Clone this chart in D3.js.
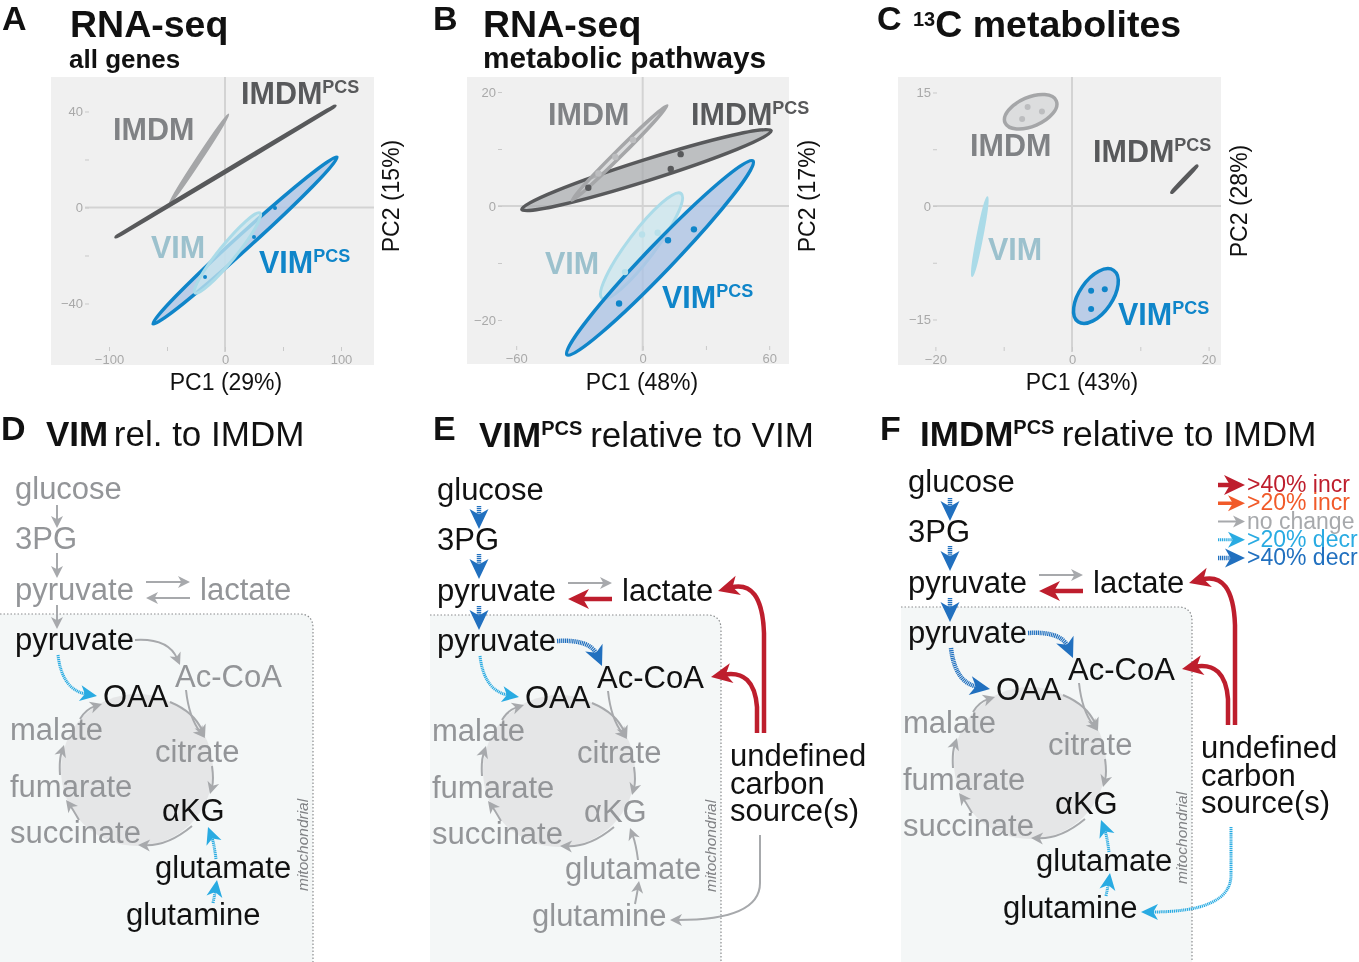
<!DOCTYPE html>
<html>
<head>
<meta charset="utf-8">
<script src="https://cdn.jsdelivr.net/npm/d3@7"></script>
<style>
    html, body { margin: 0; background: #fff; }
    svg { display: block; filter: blur(0.35px); }
    text { font-family: "Liberation Sans", Arial, sans-serif; }
</style>
</head>
<body>
<div id="figure"></div>
<script>
// ---- PCA data (ellipse = major axis ends + width/length ratio)
const groups = ["IMDM", "IMDMPCS", "VIM", "VIMPCS"];

const panelAEllipses = [
    ["IMDM", 2.6, 38.5, -47.4, 1.9, 0.025],
    ["IMDMPCS", 94.8, 42.3, -94, -12.3, 0.005],
    ["VIMPCS", 96.5, 21, -62, -48.5, 0.06],
    ["VIM", 30.2, -2.3, -25.9, -35.6, 0.16]
];
const panelAPoints = [
    ["VIMPCS", 43.1, -0.2], ["VIMPCS", 25, -12.3], ["VIMPCS", -17.2, -29]
];

const panelBEllipses = [
    ["IMDMPCS", 60.9, 13.2, -57.3, -0.6, 0.08],
    ["IMDM", 11.5, 17.6, -33.5, 1, 0.05],
    ["VIM", 18.2, 2.2, -19.3, -16.2, 0.21],
    ["VIMPCS", 52.3, 7.9, -35.9, -26.1, 0.1]
];
const panelBPoints = [
    ["IMDMPCS", 18, 9.1], ["IMDMPCS", 13.3, 6.5], ["IMDMPCS", -25.8, 3.2],
    ["IMDM", -21, 5.7], ["IMDM", -13, 8.6], ["IMDM", -4.6, 11.6],
    ["VIM", -0.3, -5], ["VIM", 7.1, -4.7], ["VIM", -8.4, -11.6],
    ["VIMPCS", 24.3, -4.1], ["VIMPCS", 12, -6], ["VIMPCS", -11.2, -17.1]
];

const panelCEllipses = [
    ["IMDM", -2.3, 13.9, -9.8, 11, 0.52],
    ["IMDMPCS", 18.3, 5.3, 14.6, 1.8, 0.03],
    ["VIM", -12.4, 1.1, -14.6, -9.2, 0.05],
    ["VIMPCS", 6.1, -8.5, 0.9, -15.3, 0.53]
];
const panelCPoints = [
    ["IMDM", -6.5, 13.1], ["IMDM", -4.4, 12.5], ["IMDM", -7.3, 11.5],
    ["VIMPCS", 2.8, -11.2], ["VIMPCS", 4.8, -11], ["VIMPCS", 2.8, -13.6]
];

const panelAXTicks = [-100, -50, 0, 50, 100];
const panelAYTicks = [-40, -20, 0, 20, 40];
const panelBXTicks = [-60, -30, 0, 30, 60];
const panelBYTicks = [-20, -10, 0, 10, 20];
const panelCXTicks = [-20, -10, 0, 10, 20];
const panelCYTicks = [-15, -7.5, 0, 7.5, 15];

// ---- pathway data: which arrow changed how, which metabolites are emphasised
const arrowKeys = [
    "glucose-3pg", "3pg-pyruvate", "pyruvate-mito", "pyruvate-lactate", "lactate-pyruvate",
    "pyruvate-accoa", "pyruvate-oaa", "accoa-citrate", "oaa-citrate", "citrate-akg",
    "akg-succinate", "succinate-fumarate", "fumarate-malate", "malate-oaa",
    "glutamate-akg", "glutamine-glutamate", "carbon-glutamine", "carbon-lactate", "carbon-accoa"
];
const panelDChanges = [
    "none", "none", "none", "none", "none",
    "none", "decr20", "none", "none", "none",
    "none", "none", "none", "none",
    "decr20", "decr20", null, null, null
];
const panelEChanges = [
    "decr40", "decr40", "decr40", "none", "incr40",
    "decr40", "decr20", "none", "none", "none",
    "none", "none", "none", "none",
    "none", "none", "none", "incr40", "incr40"
];
const panelFChanges = [
    "decr40", "decr40", "decr40", "none", "incr40",
    "decr40", "decr40", "none", "none", "none",
    "none", "none", "none", "none",
    "decr20", "decr20", "decr20", "incr40", "incr40"
];
const panelDDark = ["pyruvateM", "OAA", "aKG", "glutamate", "glutamine"];
const panelEDark = ["glucose", "3PG", "pyruvate", "lactate", "pyruvateM", "OAA", "AcCoA", "carbon"];
const panelFDark = ["glucose", "3PG", "pyruvate", "lactate", "pyruvateM", "OAA", "AcCoA", "aKG", "glutamate", "glutamine", "carbon"];

const legendKinds = ["incr40", "incr20", "none", "decr20", "decr40"];
const legendLabels = [">40% incr", ">20% incr", "no change", ">20% decr", ">40% decr"];

// ---- styles and layout
const groupStyle = {
    IMDM: { stroke: "#a5a6a8", fill: "#d3d4d5", opacity: 0.7, label: "#808285", width: 3.5, dot: "#bcbdbf" },
    IMDMPCS: { stroke: "#58595b", fill: "#a7a9ac", opacity: 0.7, label: "#58595b", width: 3.5, dot: "#58595b" },
    VIM: { stroke: "#abdbe8", fill: "#c9e5ee", opacity: 0.75, label: "#9cc1cd", width: 3, dot: "#b9e0ea" },
    VIMPCS: { stroke: "#0f85c9", fill: "#a9c2e4", opacity: 0.75, label: "#0f85c9", width: 3.5, dot: "#0f85c9" }
};
const changeStyle = {
    none: { color: "#a7a9ac", width: 2, dash: null, head: 12, spread: 12 },
    decr20: { color: "#29abe2", width: 3, dash: "1.2,0.7", head: 17, spread: 16 },
    decr40: { color: "#2170bf", width: 4.5, dash: "1.2,0.7", head: 20, spread: 19 },
    incr20: { color: "#f15a29", width: 3.5, dash: null, head: 17, spread: 16 },
    incr40: { color: "#be1e2d", width: 4.5, dash: null, head: 21, spread: 20 }
};

const width = 1359;
const height = 962;

const pcaPanels = [
    {
        rect: [51, 77, 374, 365], xRange: [109, 341], yRange: [303.5, 111.5],
        xDomain: [-100, 100], yDomain: [-40, 40], xTicks: panelAXTicks, yTicks: panelAYTicks,
        xLabelled: [-100, 0, 100], yLabelled: [-40, 0, 40], axisX: 89,
        ellipses: panelAEllipses, points: panelAPoints, dot: 2,
        xTitle: "PC1 (29%)", xTitleAt: [226, 390], yTitle: "PC2 (15%)", yTitleAt: [399, 196],
        labels: { IMDM: [113, 140], IMDMPCS: [241, 104], VIM: [151, 258], VIMPCS: [259, 273] }
    },
    {
        rect: [467, 77, 789, 364], xRange: [516.2, 769.2], yRange: [320, 92],
        xDomain: [-60, 60], yDomain: [-20, 20], xTicks: panelBXTicks, yTicks: panelBYTicks,
        xLabelled: [-60, 0, 60], yLabelled: [-20, 0, 20], axisX: 502,
        ellipses: panelBEllipses, points: panelBPoints, dot: 3.2,
        xTitle: "PC1 (48%)", xTitleAt: [642, 390], yTitle: "PC2 (17%)", yTitleAt: [815, 196],
        labels: { IMDM: [548, 125], IMDMPCS: [691, 125], VIM: [545, 274], VIMPCS: [662, 308] }
    },
    {
        rect: [898, 77, 1221, 365], xRange: [935.4, 1208.6], yRange: [319.5, 92.5],
        xDomain: [-20, 20], yDomain: [-15, 15], xTicks: panelCXTicks, yTicks: panelCYTicks,
        xLabelled: [-20, 0, 20], yLabelled: [-15, 0, 15], axisX: 937,
        ellipses: panelCEllipses, points: panelCPoints, dot: 3,
        xTitle: "PC1 (43%)", xTitleAt: [1082, 390], yTitle: "PC2 (28%)", yTitleAt: [1247, 201],
        labels: { IMDM: [970, 156], IMDMPCS: [1093, 162], VIM: [988, 260], VIMPCS: [1118, 325] }
    }
];

// Metabolite positions in the D panel's frame: [left, baseline]
const nodeAt = {
    glucose: ["glucose", 15, 499], "3PG": ["3PG", 15, 549], pyruvate: ["pyruvate", 15, 600],
    lactate: ["lactate", 200, 600], pyruvateM: ["pyruvate", 15, 650], OAA: ["OAA", 103, 707],
    AcCoA: ["Ac-CoA", 175, 687], malate: ["malate", 10, 740], citrate: ["citrate", 155, 762],
    fumarate: ["fumarate", 10, 797], aKG: ["αKG", 162, 821], succinate: ["succinate", 10, 843],
    glutamate: ["glutamate", 143, 878], glutamine: ["glutamine", 110, 925]
};

// Arrow routes: 2 pts line, 3 pts quad, 4 pts line+quad
const routes = {
    "glucose-3pg": [[57, 505], [57, 528]],
    "3pg-pyruvate": [[57, 553], [57, 578]],
    "pyruvate-mito": [[57, 605], [57, 629]],
    "pyruvate-lactate": [[146, 582], [190, 582]],
    "lactate-pyruvate": [[190, 598], [146, 598]],
    "pyruvate-accoa": [[135, 640], [168, 638], [180, 665]],
    "pyruvate-oaa": [[58, 655], [62, 690], [97, 696]],
    "accoa-citrate": [[186, 690], [189, 718], [205, 738]],
    "oaa-citrate": [[170, 702], [194, 712], [205, 737]],
    "citrate-akg": [[212, 766], [214, 780], [210, 794]],
    "akg-succinate": [[192, 826], [168, 846], [138, 845]],
    "succinate-fumarate": [[79, 820], [72, 808], [66, 800]],
    "fumarate-malate": [[60, 775], [59, 760], [64, 745]],
    "malate-oaa": [[80, 719], [86, 709], [102, 704]],
    "glutamate-akg": [[216, 859], [214, 843], [208, 827]],
    "glutamine-glutamate": [[213, 903], [215, 893], [217, 880]],
    "carbon-glutamine": [[338, 834], [338, 882], [338, 919], [248, 919]],
    "carbon-lactate": [[342, 732], [342, 632], [340, 578], [296, 590]],
    "carbon-accoa": [[335, 732], [335, 706], [332, 668], [289, 676]]
};

const svg = d3.select("#figure").append("svg")
    .attr("width", width)
    .attr("height", height);

// Line of text built from runs, used for titles and labels with superscripts
function drawRuns(parent, x, y, runs, color) {
    const text = parent.append("text").attr("x", x).attr("y", y).attr("fill", color || "#111");
    let lift = 0;
    runs.forEach(run => {
        const raise = run.raise || 0;
        const tspan = text.append("tspan")
            .attr("font-size", run.size)
            .attr("font-weight", run.bold ? "bold" : "normal")
            .text(run.text);
        if (raise !== lift) tspan.attr("dy", lift - raise);
        lift = raise;
    });
    return text;
}

function drawPanelLetter(letter, x, y) {
    svg.append("text").attr("x", x).attr("y", y)
        .attr("font-size", 34).attr("font-weight", "bold").attr("fill", "#111").text(letter);
}

function drawPca(panel) {
    const g = svg.append("g");
    const [left, top, right, bottom] = panel.rect;
    const x = d3.scaleLinear().domain(panel.xDomain).range(panel.xRange);
    const y = d3.scaleLinear().domain(panel.yDomain).range(panel.yRange);

    g.append("rect")
        .attr("x", left).attr("y", top)
        .attr("width", right - left).attr("height", bottom - top)
        .attr("fill", "#f0f0f0");

    // Zero lines
    g.append("line")
        .attr("x1", panel.axisX - 4).attr("x2", right)
        .attr("y1", y(0)).attr("y2", y(0))
        .attr("stroke", "#d3d3d3").attr("stroke-width", 2);
    g.append("line")
        .attr("x1", x(0)).attr("x2", x(0))
        .attr("y1", top).attr("y2", bottom - 13)
        .attr("stroke", "#d3d3d3").attr("stroke-width", 2);

    const xAxis = d3.axisBottom(x)
        .tickValues(panel.xTicks)
        .tickSize(4).tickPadding(4)
        .tickFormat(d => panel.xLabelled.includes(d) ? d3.format("d")(d) : "");
    const yAxis = d3.axisLeft(y)
        .tickValues(panel.yTicks)
        .tickSize(4).tickPadding(2)
        .tickFormat(d => panel.yLabelled.includes(d) ? d3.format("d")(d) : "");

    [g.append("g").attr("transform", `translate(0,${bottom - 18})`).call(xAxis),
     g.append("g").attr("transform", `translate(${panel.axisX},0)`).call(yAxis)]
        .forEach(axis => {
            axis.select(".domain").remove();
            axis.selectAll(".tick line").attr("stroke", "#c9c9c9");
            axis.selectAll(".tick text")
                .attr("fill", "#a9a9a9")
                .attr("font-size", 13)
                .attr("font-family", null);
            axis.attr("font-family", null);
        });

    // Ellipses are given by the ends of their major axis
    const axisLength = d => Math.hypot(x(d[1]) - x(d[3]), y(d[2]) - y(d[4]));
    g.selectAll(".cluster")
        .data(panel.ellipses)
        .enter()
        .append("ellipse")
        .attr("class", "cluster")
        .attr("cx", d => (x(d[1]) + x(d[3])) / 2)
        .attr("cy", d => (y(d[2]) + y(d[4])) / 2)
        .attr("rx", d => axisLength(d) / 2)
        .attr("ry", d => axisLength(d) * d[5] / 2)
        .attr("transform", d => {
            const angle = Math.atan2(y(d[2]) - y(d[4]), x(d[1]) - x(d[3])) * 180 / Math.PI;
            return `rotate(${angle} ${(x(d[1]) + x(d[3])) / 2} ${(y(d[2]) + y(d[4])) / 2})`;
        })
        // very thin clusters read as a solid sliver
        .attr("fill", d => axisLength(d) * d[5] / 2 < 3 ? groupStyle[d[0]].stroke : groupStyle[d[0]].fill)
        .attr("fill-opacity", d => axisLength(d) * d[5] / 2 < 3 ? 1 : groupStyle[d[0]].opacity)
        .attr("stroke", d => groupStyle[d[0]].stroke)
        .attr("stroke-width", d => groupStyle[d[0]].width);

    g.selectAll(".sample")
        .data(panel.points)
        .enter()
        .append("circle")
        .attr("class", "sample")
        .attr("cx", d => x(d[1]))
        .attr("cy", d => y(d[2]))
        .attr("r", panel.dot)
        .attr("fill", d => groupStyle[d[0]].dot);

    groups.forEach(group => {
        const at = panel.labels[group];
        const runs = [{ text: group.replace("PCS", ""), size: 30.5, bold: true }];
        if (group.endsWith("PCS")) runs.push({ text: "PCS", size: 18, bold: true, raise: 11 });
        drawRuns(g, at[0], at[1], runs, groupStyle[group].label);
    });

    g.append("text")
        .attr("x", panel.xTitleAt[0]).attr("y", panel.xTitleAt[1])
        .attr("text-anchor", "middle").attr("font-size", 23).attr("fill", "#111")
        .text(panel.xTitle);
    g.append("text")
        .attr("transform", `translate(${panel.yTitleAt[0]},${panel.yTitleAt[1]}) rotate(-90)`)
        .attr("text-anchor", "middle").attr("font-size", 23).attr("fill", "#111")
        .text(panel.yTitle);
}

function drawArrow(parent, points, kind) {
    const style = changeStyle[kind];
    const n = points.length;
    const [px, py] = points[n - 2];
    const [tx, ty] = points[n - 1];
    const angle = Math.atan2(ty - py, tx - px);
    // Stop the shaft inside the head so it does not poke out at the tip
    const endX = tx - Math.cos(angle) * style.head * 0.6;
    const endY = ty - Math.sin(angle) * style.head * 0.6;

    const path = d3.path();
    path.moveTo(points[0][0], points[0][1]);
    if (n === 2) {
        path.lineTo(endX, endY);
    } else if (n === 3) {
        path.quadraticCurveTo(points[1][0], points[1][1], endX, endY);
    } else {
        path.lineTo(points[1][0], points[1][1]);
        path.quadraticCurveTo(points[2][0], points[2][1], endX, endY);
    }

    parent.append("path")
        .attr("d", path.toString())
        .attr("fill", "none")
        .attr("stroke", style.color)
        .attr("stroke-width", style.width)
        .attr("stroke-dasharray", style.dash);

    const h = style.head;
    const s = style.spread / 2;
    parent.append("path")
        .attr("d", `M0,0L${-h},${-s}L${-h * 0.72},0L${-h},${s}Z`)
        .attr("transform", `translate(${tx},${ty}) rotate(${angle * 180 / Math.PI})`)
        .attr("fill", style.color);
}

function drawPathway(options) {
    const g = svg.append("g").attr("transform", `translate(${options.dx},${options.dy})`);
    const mitoLeft = options.mitoLeft;
    const mitoRight = options.mitoRight;
    const mitoTop = 614;
    const mitoBottom = height - options.dy + 10;

    g.append("path")
        .attr("d", `M${mitoLeft},${mitoBottom}V${mitoTop}H${mitoRight - 14}Q${mitoRight},${mitoTop} ${mitoRight},${mitoTop + 14}V${mitoBottom}Z`)
        .attr("fill", "#f4f7f7");
    g.append("path")
        .attr("d", `M${mitoLeft},${mitoTop}H${mitoRight - 14}Q${mitoRight},${mitoTop} ${mitoRight},${mitoTop + 14}V${mitoBottom}`)
        .attr("fill", "none")
        .attr("stroke", "#8a8c8e")
        .attr("stroke-width", 1.2)
        .attr("stroke-dasharray", "1.5,2");

    g.append("circle")
        .attr("cx", 137).attr("cy", 770).attr("r", 76)
        .attr("fill", "#e5e6e7");

    g.append("text")
        .attr("transform", `translate(${mitoRight - 5},891) rotate(-90)`)
        .attr("font-size", 15.5).attr("font-style", "italic").attr("fill", "#808285")
        .text("mitochondrial");

    arrowKeys.forEach((key, i) => {
        const kind = options.changes[i];
        if (kind) drawArrow(g, routes[key], kind);
    });

    Object.keys(nodeAt).forEach(key => {
        const [label, nx, ny] = nodeAt[key];
        const shift = (options.nodeShift && options.nodeShift[key]) || 0;
        g.append("text")
            .attr("x", nx + shift).attr("y", ny)
            .attr("font-size", 31)
            .attr("fill", options.dark.includes(key) ? "#111" : "#939598")
            .text(label);
    });

    if (options.dark.includes("carbon")) {
        ["undefined", "carbon", "source(s)"].forEach((line, i) => {
            g.append("text")
                .attr("x", 308).attr("y", 765 + i * 27.5)
                .attr("font-size", 31).attr("fill", "#111")
                .text(line);
        });
    }
}

pcaPanels.forEach(drawPca);

// Titles of the upper row
drawPanelLetter("A", 2, 30);
drawRuns(svg, 70, 37, [{ text: "RNA-seq", size: 37.5, bold: true }]);
drawRuns(svg, 69, 68, [{ text: "all genes", size: 26, bold: true }]);
drawPanelLetter("B", 433, 30);
drawRuns(svg, 483, 37, [{ text: "RNA-seq", size: 37.5, bold: true }]);
drawRuns(svg, 483, 68, [{ text: "metabolic pathways", size: 29.8, bold: true }]);
drawPanelLetter("C", 877, 30);
drawRuns(svg, 913, 37, [
    { text: "13", size: 20, bold: true, raise: 11 },
    { text: "C metabolites", size: 37.5, bold: true }
]);

// Pathway panels
drawPathway({
    dx: 0, dy: 0, mitoLeft: 0, mitoRight: 313,
    changes: panelDChanges, dark: panelDDark,
    nodeShift: { glutamate: 12, glutamine: 16 }
});
drawPathway({
    dx: 422, dy: 1, mitoLeft: 8, mitoRight: 299,
    changes: panelEChanges, dark: panelEDark
});
drawPathway({
    dx: 893, dy: -7, mitoLeft: 8, mitoRight: 299,
    changes: panelFChanges, dark: panelFDark
});

drawPanelLetter("D", 1, 440);
drawRuns(svg, 46, 446, [
    { text: "VIM", size: 35, bold: true },
    { text: "\u00a0", size: 20 },
    { text: "rel. to IMDM", size: 35 }
]);
drawPanelLetter("E", 433, 440);
drawRuns(svg, 479, 447, [
    { text: "VIM", size: 35, bold: true },
    { text: "PCS", size: 20, bold: true, raise: 12 },
    { text: "\u00a0", size: 28 },
    { text: "relative to VIM", size: 35 }
]);
drawPanelLetter("F", 880, 440);
drawRuns(svg, 920, 446, [
    { text: "IMDM", size: 35, bold: true },
    { text: "PCS", size: 20, bold: true, raise: 12 },
    { text: "\u00a0", size: 26 },
    { text: "relative to IMDM", size: 35 }
]);

// Legend
const legendY = d3.scalePoint().domain(legendKinds).range([485, 558]);
legendKinds.forEach((kind, i) => {
    drawArrow(svg, [[1218, legendY(kind)], [1245, legendY(kind)]], kind);
    svg.append("text")
        .attr("x", 1247).attr("y", legendY(kind) + 7)
        .attr("font-size", 23)
        .attr("fill", changeStyle[kind].color)
        .text(legendLabels[i]);
});
</script>
</body>
</html>
